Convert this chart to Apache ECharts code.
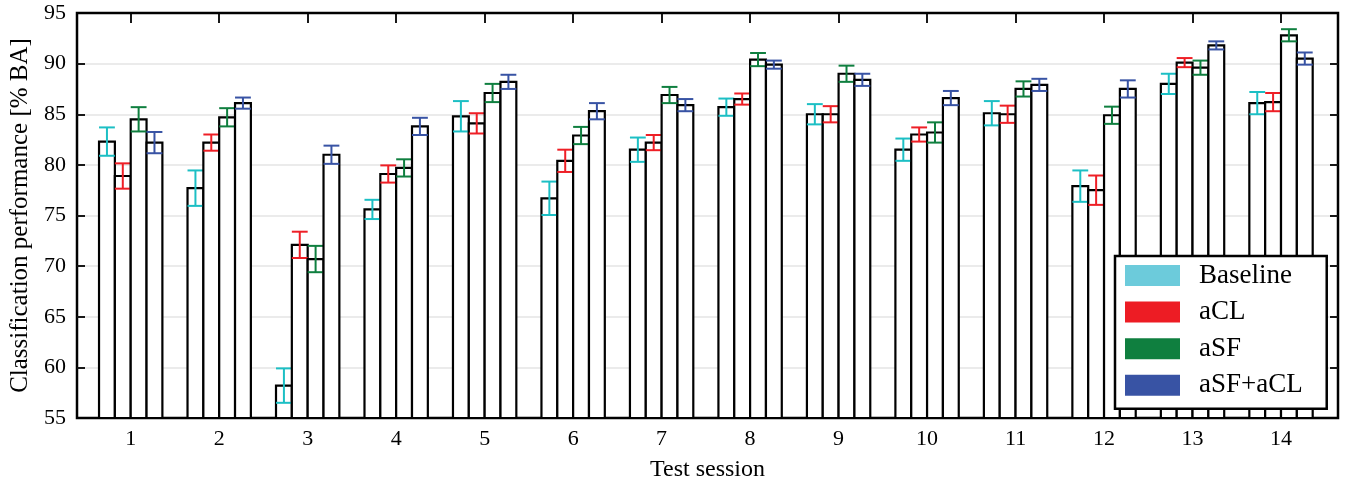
<!DOCTYPE html>
<html>
<head>
<meta charset="utf-8">
<script src="https://cdn.jsdelivr.net/npm/echarts@6/dist/echarts.min.js"></script>
<style>html,body{margin:0;padding:0;background:#fff;}#c{width:1348px;height:487px;}</style>
</head>
<body>
<div id="c"></div>
<script>
const sessions = [1,2,3,4,5,6,7,8,9,10,11,12,13,14];
const seriesNames = ['Baseline','aCL','aSF','aSF+aCL'];
const baseline    = [82.3,77.7,58.2,75.6,84.8,76.7,81.5,85.7,85.0,81.5,85.1,77.9,88.0,86.1];
const baselineErr = [1.4,1.75,1.7,0.95,1.5,1.65,1.2,0.85,1.0,1.1,1.2,1.55,1.0,1.1];
const acl         = [78.9,82.2,72.1,79.1,84.1,80.4,82.2,86.5,85.0,83.0,85.0,77.5,90.1,86.2];
const aclErr      = [1.25,0.8,1.3,0.85,1.0,1.1,0.75,0.55,0.8,0.7,0.85,1.45,0.45,0.9];
const asf         = [84.5,84.7,70.7,79.7,87.1,82.9,86.9,90.4,89.0,83.2,87.5,84.9,89.6,92.8];
const asfErr      = [1.2,0.9,1.3,0.85,0.9,0.85,0.8,0.65,0.8,1.0,0.75,0.85,0.7,0.6];
const asfacl      = [82.2,86.1,81.0,83.8,88.2,85.3,85.9,89.9,88.4,86.6,87.9,87.5,91.8,90.5];
const asfaclErr   = [1.05,0.55,0.9,0.85,0.7,0.8,0.6,0.4,0.6,0.7,0.6,0.85,0.4,0.6];
const yTicks = [55,60,65,70,75,80,85,90,95];

const legendColors = ['#6ccbdb','#ed1c24','#0f7f3f','#3853a4'];
const errColors = ['#1cbfc4','#ee1f26','#0f7f3f','#3853a4'];
const XMIN = 0.393, XMAX = 14.644, YMIN = 55, YMAX = 95;
const BW = 0.179;
const FONT = 'Liberation Serif';

const values = [baseline, acl, asf, asfacl];
const errs = [baselineErr, aclErr, asfErr, asfaclErr];

function makeSeries(s) {
  return {
    name: seriesNames[s],
    type: 'custom',
    xAxisIndex: 0, yAxisIndex: 0,
    itemStyle: { color: legendColors[s] },
    data: sessions.map((x, i) => [x, values[s][i], errs[s][i]]),
    renderItem: function (params, api) {
      const x = api.value(0), v = api.value(1), e = api.value(2);
      const cx = x + (s - 1.5) * BW;
      const tl = api.coord([cx - BW / 2, v]);
      const br = api.coord([cx + BW / 2, YMIN]);
      const top = api.coord([cx, v + e]);
      const bot = api.coord([cx, v - e]);
      const c = top[0];
      const hw = (br[0] - tl[0]) / 2;
      const ec = errColors[s];
      return {
        type: 'group',
        children: [
          { type: 'rect', shape: { x: tl[0], y: tl[1], width: br[0] - tl[0], height: br[1] - tl[1] },
            style: { fill: '#fff', stroke: '#000', lineWidth: 2.2 } },
          { type: 'line', shape: { x1: c, y1: top[1], x2: c, y2: bot[1] }, style: { stroke: ec, lineWidth: 2 } },
          { type: 'line', shape: { x1: c - hw, y1: top[1], x2: c + hw, y2: top[1] }, style: { stroke: ec, lineWidth: 2 } },
          { type: 'line', shape: { x1: c - hw, y1: bot[1], x2: c + hw, y2: bot[1] }, style: { stroke: ec, lineWidth: 2 } }
        ]
      };
    }
  };
}

const chart = echarts.init(document.getElementById('c'), null, { renderer: 'canvas' });
chart.setOption({
  animation: false,
  backgroundColor: '#fff',
  textStyle: { fontFamily: FONT, color: '#000' },
  grid: { left: 77, right: 10, top: 13, bottom: 65, show: true, borderColor: '#000', borderWidth: 2.5, backgroundColor: 'transparent' },
  legend: {
    orient: 'vertical',
    left: 1115, top: 256,
    padding: [6, 24, 10, 10],
    itemWidth: 55, itemHeight: 21, itemGap: 9.6,
    icon: 'rect',
    backgroundColor: '#fff',
    borderColor: '#000', borderWidth: 2.5,
    textStyle: { fontFamily: FONT, fontSize: 27, color: '#000', padding: [0, 0, 0, 14] },
    data: seriesNames
  },
  xAxis: [
    { type: 'value', min: XMIN, max: XMAX, position: 'bottom',
      name: 'Test session', nameLocation: 'middle', nameGap: 40,
      nameTextStyle: { fontFamily: FONT, fontSize: 24, color: '#000' },
      axisLine: { show: false }, axisTick: { show: false }, splitLine: { show: false },
      axisLabel: { customValues: sessions, fontFamily: FONT, fontSize: 22, color: '#000', margin: 10 } },
    { type: 'value', min: XMIN, max: XMAX, position: 'top',
      axisLine: { show: false }, splitLine: { show: false }, axisLabel: { show: false },
      axisTick: { show: true, inside: true, length: 10, customValues: sessions, lineStyle: { color: '#000', width: 1.8 } } }
  ],
  yAxis: [
    { type: 'value', min: YMIN, max: YMAX, interval: 5, position: 'left',
      name: 'Classification performance [% BA]', nameLocation: 'middle', nameGap: 44,
      nameTextStyle: { fontFamily: FONT, fontSize: 25, color: '#000' },
      axisLine: { show: false },
      axisTick: { show: true, inside: true, length: 8, lineStyle: { color: '#000', width: 1.8 } },
      splitLine: { show: true, showMinLine: false, showMaxLine: false, lineStyle: { color: '#e4e4e4', width: 1.5 } },
      axisLabel: { fontFamily: FONT, fontSize: 22, color: '#000', margin: 11 } },
    { type: 'value', min: YMIN, max: YMAX, interval: 5, position: 'right',
      axisLine: { show: false }, splitLine: { show: false }, axisLabel: { show: false },
      axisTick: { show: true, inside: true, length: 8, lineStyle: { color: '#000', width: 1.8 } } }
  ],
  series: [0, 1, 2, 3].map(makeSeries)
});
</script>
</body>
</html>
